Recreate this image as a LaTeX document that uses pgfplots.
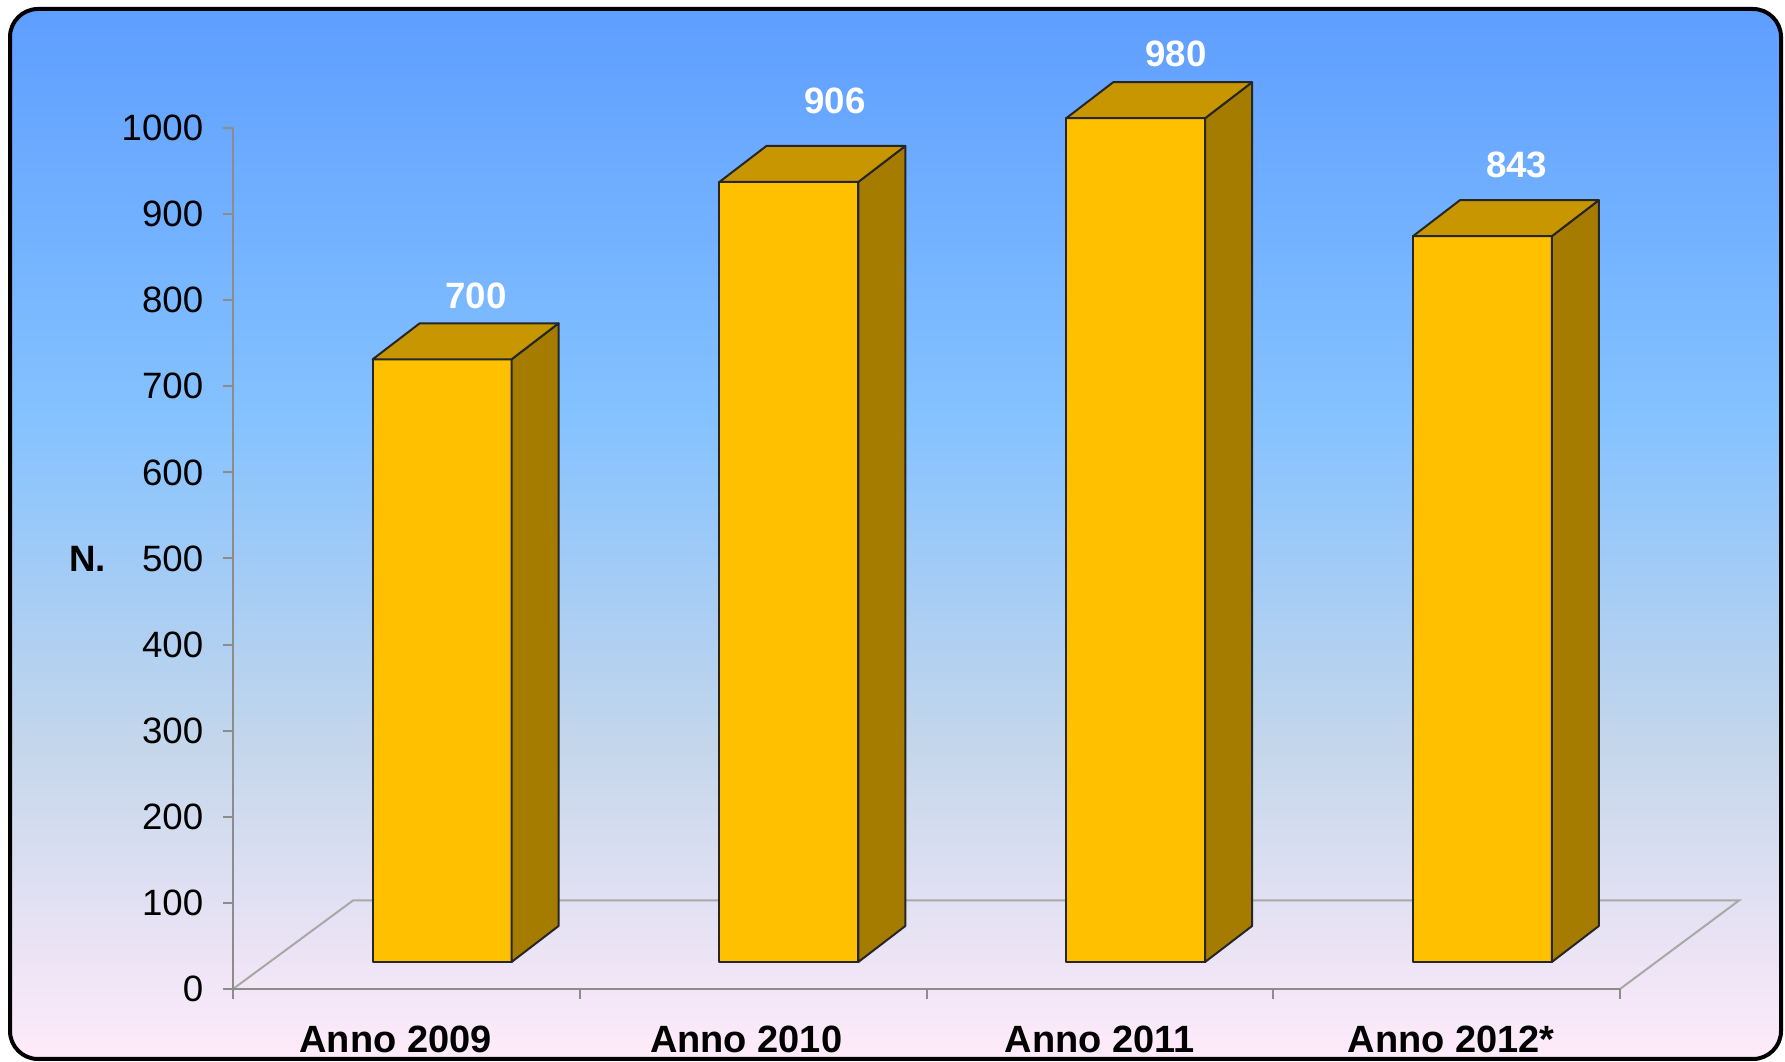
\documentclass[border=0pt]{standalone}
\usepackage{pgfplots}
\pgfplotsset{compat=1.18}
\usepackage{fontspec}
\setmainfont{Liberation Sans}
\definecolor{barfront}{HTML}{FFC000}
\definecolor{bartop}{HTML}{C89600}
\definecolor{barside}{HTML}{A57B00}
\definecolor{axgray}{HTML}{8C8C8C}
\definecolor{floorgray}{HTML}{A8A8A8}
\definecolor{bgA}{HTML}{FFEBFA}
\definecolor{bgB}{HTML}{C4D6EB}
\definecolor{bgC}{HTML}{85C2FF}
\definecolor{bgD}{HTML}{5E9EFF}
\pgfdeclareverticalshading{daybreak}{100bp}{color(0bp)=(bgA); color(25bp)=(bgA); color(40bp)=(bgB); color(55.5bp)=(bgC); color(75bp)=(bgD); color(100bp)=(bgD)}
\begin{document}
\begin{tikzpicture}
\useasboundingbox (0,0) rectangle (535.5pt,318.6pt);
\shadedraw[shading=daybreak, draw=black, line width=1.2pt, rounded corners=8.4pt] (3pt,0.9pt) rectangle (534.3pt,315.9pt);
% floor of the 3D plot area
\draw[floorgray, line width=0.6pt] (69.9pt,21.9pt) -- (105.9pt,48.45pt) -- (521.7pt,48.45pt) -- (486pt,21.9pt);
\begin{axis}[
  at={(69.9pt,21.9pt)}, anchor=south west,
  x=104.025pt, y=0.2583pt,
  xmin=-0.5, xmax=3.5, ymin=0, ymax=1000,
  clip=false,
  axis lines*=left,
  axis line style={draw=axgray, line width=0.7pt},
  tick style={draw=axgray, line width=0.6pt},
  tick align=outside,
  major tick length=3pt,
  /pgf/number format/assume math mode=true,
  /pgf/number format/1000 sep={},
  ytick={0,100,...,1000},
  yticklabel style={font=\fontsize{11}{13}\selectfont, text=black, xshift=-2.4pt},
  xtick={-0.5,0.5,1.5,2.5,3.5},
  xticklabels={,,,,},
  extra x ticks={-0.031,0.98,2.0,3.013},
  extra x tick labels={Anno 2009,Anno 2010,Anno 2011,Anno 2012*},
  extra x tick style={major tick length=0pt, tick label style={font=\bfseries\fontsize{11.4}{13}\selectfont, text=black, yshift=-7.5pt}},
  ylabel={N.},
  ylabel style={at={(axis description cs:-0.105,0.5)}, rotate=-90, anchor=center, font=\bfseries\fontsize{11}{13}\selectfont},
]
\addplot[scatter, only marks, mark=*, mark size=0pt, mark options={draw=none, fill=none},
  visualization depends on={rawy \as \val},
  visualization depends on={\thisrow{lx} \as \lx},
  visualization depends on={\thisrow{ly} \as \ly},
  scatter/@pre marker code/.code={%
    \pgfmathsetmacro\yb{8.1-\val*0.2583}%
    \pgfmathsetmacro\ybb{\yb+10.8}%
    \filldraw[fill=barfront, draw=black!85, line width=0.6pt, line join=round] (-10.1pt,\yb pt) rectangle (31.56pt,8.1pt);
    \filldraw[fill=barside, draw=black!85, line width=0.6pt, line join=round] (31.56pt,8.1pt) -- (45.66pt,18.9pt) -- (45.66pt,\ybb pt) -- (31.56pt,\yb pt) -- cycle;
    \filldraw[fill=bartop, draw=black!85, line width=0.6pt, line join=round] (-10.1pt,8.1pt) -- (4pt,18.9pt) -- (45.66pt,18.9pt) -- (31.56pt,8.1pt) -- cycle;
    \node[text=white, font=\bfseries\fontsize{11}{13}\selectfont] at ({\lx*0.3pt},{\ly*0.3pt}) {\pgfmathprintnumber[assume math mode=true]{\val}};
  },
  scatter/@post marker code/.code={},
] table {
x v lx ly
0 700 69.5 90.3
1 906 82 107.9
2 980 76 91.7
3 843 70 98.2
};
\end{axis}
\end{tikzpicture}
\end{document}
